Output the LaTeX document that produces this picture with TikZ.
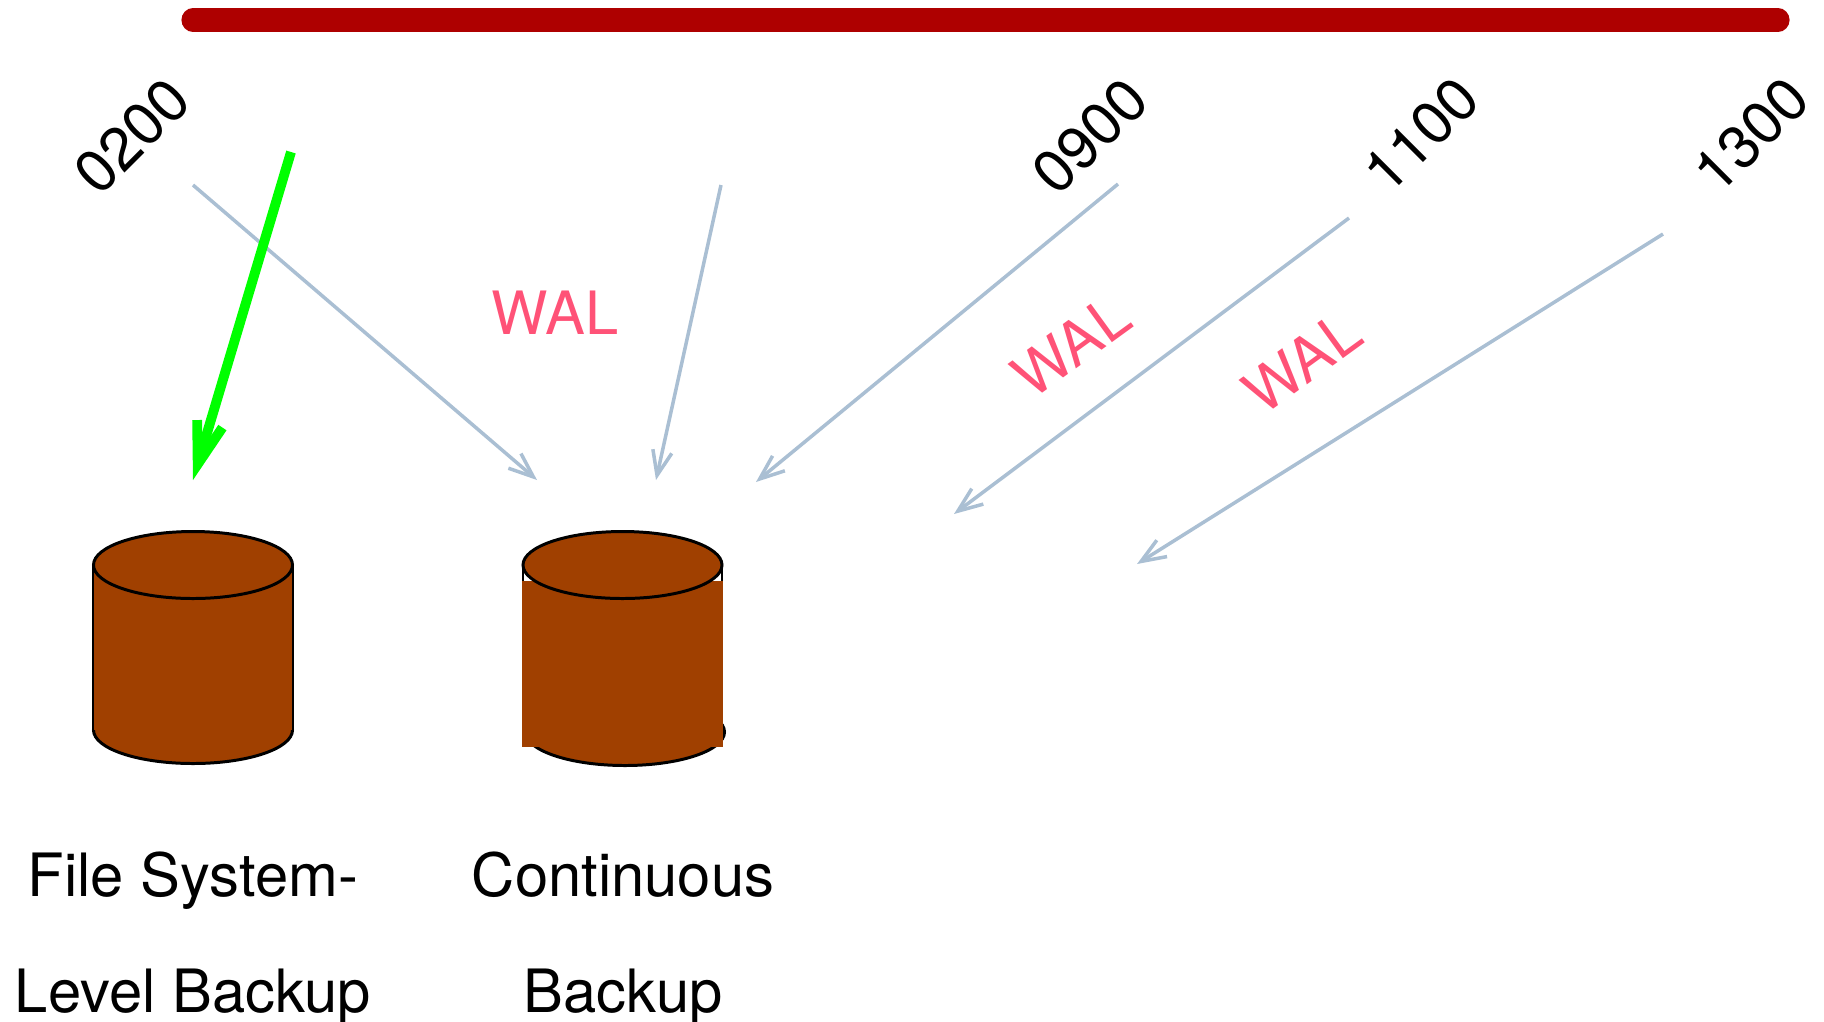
\documentclass[tikz,border=0pt]{standalone}
\usepackage{fontspec}
\setmainfont{TeX Gyre Heros}
\usetikzlibrary{arrows.meta}
\definecolor{myred}{HTML}{AE0000}
\definecolor{mygreen}{HTML}{00FF00}
\definecolor{myblue}{HTML}{AABFD3}
\definecolor{mypink}{HTML}{FF5277}
\definecolor{mybrown}{HTML}{A04000}
\tikzset{
    every node/.style={font=\fontsize{17}{33}\selectfont, inner sep=0pt},
    walarrow/.style={draw=myblue, line width=1pt, -{Straight Barb[sharp, length=7pt, width=5.5pt]}},
    fullarrow/.style={draw=mygreen, line width=2.8pt, -{Straight Barb[sharp, length=12pt, width=7.5pt]}},
    wallabel/.style={text=mypink},
}
\begin{document}
\begin{tikzpicture}[y=-1cm]
    \useasboundingbox (0,0) rectangle (18.24,10.21);
    % timeline
    \draw[line width=6.6pt, line cap=round, myred] (1.93,0.20) -- (17.78,0.20);
    \node[rotate=45] (t0200) at (1.32,1.36) {0200};
    \node[rotate=45] (t0900) at (10.90,1.36) {0900};
    \node[rotate=45] (t1100) at (14.21,1.35) {1100};
    \node[rotate=45] (t1300) at (17.51,1.35) {1300};
    % file system level cylinder
    \draw[line width=0.85pt, fill=mybrown] (1.93,7.30) ellipse [x radius=0.995, y radius=0.335];
    \fill[mybrown] (0.93,5.65) rectangle (2.93,7.30);
    \draw[line width=0.4pt] (0.93,5.65) -- (0.93,7.30);
    \draw[line width=0.4pt] (2.93,5.65) -- (2.93,7.30);
    \draw[line width=0.85pt, fill=mybrown] (1.93,5.65) ellipse [x radius=0.995, y radius=0.335];
    % continuous cylinder
    \draw[line width=0.85pt, fill=mybrown] (6.25,7.32) ellipse [x radius=0.995, y radius=0.335];
    \draw[line width=0.4pt] (5.23,5.65) -- (5.23,7.31);
    \draw[line width=0.4pt] (7.22,5.65) -- (7.22,7.31);
    \fill[mybrown] (5.22,5.81) rectangle (7.23,7.47);
    \draw[line width=0.85pt, fill=mybrown] (6.225,5.65) ellipse [x radius=0.995, y radius=0.335];
    % arrows
    \coordinate (a1) at (1.93,1.85);
    \coordinate (b1) at (5.37,4.80);
    \coordinate (a2) at (7.21,1.85);
    \coordinate (b2) at (6.56,4.80);
    \coordinate (a3) at (11.18,1.84);
    \coordinate (b3) at (7.56,4.82);
    \coordinate (a4) at (13.49,2.18);
    \coordinate (b4) at (9.54,5.14);
    \coordinate (a5) at (16.63,2.34);
    \coordinate (b5) at (11.37,5.64);
    \coordinate (a0) at (2.91,1.52);
    \coordinate (b0) at (1.93,4.80);
    \draw[walarrow] (a1) -- (b1);
    \draw[fullarrow] (a0) -- (b0);
    \draw[walarrow] (a2) -- (b2);
    \draw[walarrow] (a3) -- (b3);
    \draw[walarrow] (a4) -- (b4);
    \draw[walarrow] (a5) -- (b5);
    \node[wallabel] (wal1) at (5.55,3.13) {WAL};
    \node[wallabel, rotate=36] (wal2) at (10.71,3.46) {WAL};
    \node[wallabel, rotate=36] (wal3) at (13.02,3.62) {WAL};
    % captions
    \node[align=center] (fs) at (1.93,9.39) {File System-\\Level Backup};
    \node[align=center] (cont) at (6.23,9.39) {Continuous\\Backup};
\end{tikzpicture}
\end{document}
